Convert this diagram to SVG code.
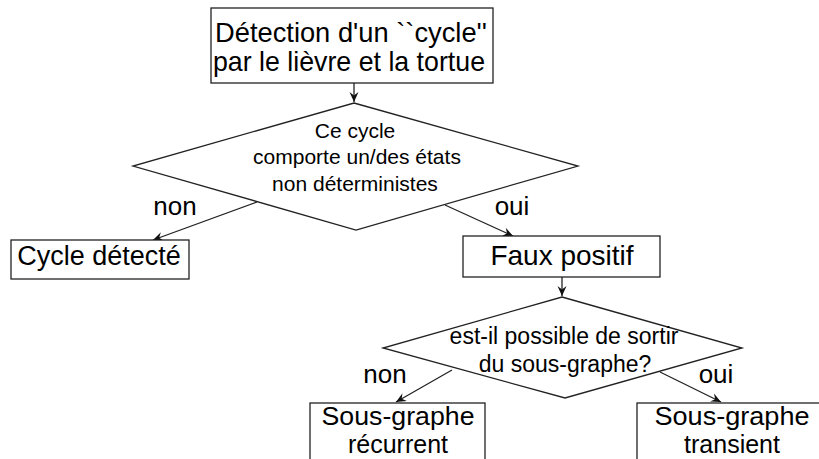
<svg xmlns="http://www.w3.org/2000/svg" width="819" height="459" viewBox="0 0 819 459">
  <defs>
    <style>
      .shape { fill: #ffffff; stroke: #222222; stroke-width: 1.3; }
      .edge { fill: none; stroke: #222222; stroke-width: 1.3; }
      text { font-family: "Liberation Sans", Arial, Helvetica, sans-serif; fill: #000000; text-anchor: middle; }
      .big { font-size: 28px; }
      .box { font-size: 27px; }
      .sub { font-size: 25px; }
      .d1 { font-size: 21px; }
      .d2 { font-size: 23px; }
      .lbl { font-size: 26px; }
    </style>
    <marker id="arr" viewBox="-12 -6 14 12" refX="0" refY="0" markerWidth="14" markerHeight="12" markerUnits="userSpaceOnUse" orient="auto">
      <path d="M0,0 L-10,-4.5 L-6.5,0 L-10,4.5 Z" fill="#111111"/>
    </marker>
  </defs>
  <rect width="819" height="459" fill="#ffffff"/>

  <g id="connectors">
    <line class="edge" x1="354" y1="83" x2="354" y2="102" marker-end="url(#arr)"/>
    <line class="edge" x1="257" y1="202" x2="153" y2="240" marker-end="url(#arr)"/>
    <line class="edge" x1="445" y1="205" x2="513" y2="236" marker-end="url(#arr)"/>
    <line class="edge" x1="562" y1="277" x2="562" y2="296" marker-end="url(#arr)"/>
    <line class="edge" x1="452" y1="370" x2="396" y2="402" marker-end="url(#arr)"/>
    <line class="edge" x1="660" y1="372" x2="721" y2="402" marker-end="url(#arr)"/>
    <text class="lbl" x="175" y="215">non</text>
    <text class="lbl" x="512" y="215">oui</text>
    <text class="lbl" x="385" y="383">non</text>
    <text class="lbl" x="716" y="383">oui</text>
  </g>

  <g id="n-detection">
    <rect class="shape" x="211" y="8" width="282" height="75"/>
    <text class="big" x="351" y="42" textLength="272" lengthAdjust="spacingAndGlyphs">Détection d'un ``cycle''</text>
    <text class="big" x="349" y="71" textLength="272" lengthAdjust="spacingAndGlyphs">par le lièvre et la tortue</text>
  </g>

  <g id="n-decision1">
    <polygon class="shape" points="354,103 578,166 356,230 133,166"/>
    <text class="d1" x="355" y="138">Ce cycle</text>
    <text class="d1" x="357" y="164">comporte un/des états</text>
    <text class="d1" x="355" y="191">non déterministes</text>
  </g>

  <g id="n-cycle">
    <rect class="shape" x="11" y="240" width="178" height="39"/>
    <text class="box" x="99" y="265">Cycle détecté</text>
  </g>

  <g id="n-faux">
    <rect class="shape" x="463" y="236" width="197" height="41"/>
    <text class="box" x="562" y="265" style="font-size:28px">Faux positif</text>
  </g>

  <g id="n-decision2">
    <polygon class="shape" points="562,297 742,348 565,398 383,348"/>
    <text class="d2" x="564" y="344">est-il possible de sortir</text>
    <text class="d2" x="565" y="372">du sous-graphe?</text>
  </g>

  <g id="n-recurrent">
    <rect class="shape" x="310" y="403" width="175" height="70"/>
    <text class="sub" x="398" y="425" textLength="153" lengthAdjust="spacingAndGlyphs">Sous-graphe</text>
    <text class="sub" x="398" y="453">récurrent</text>
  </g>

  <g id="n-transient">
    <rect class="shape" x="637" y="403" width="190" height="70"/>
    <text class="sub" x="732" y="425" textLength="155" lengthAdjust="spacingAndGlyphs">Sous-graphe</text>
    <text class="sub" x="732" y="453">transient</text>
  </g>
</svg>
